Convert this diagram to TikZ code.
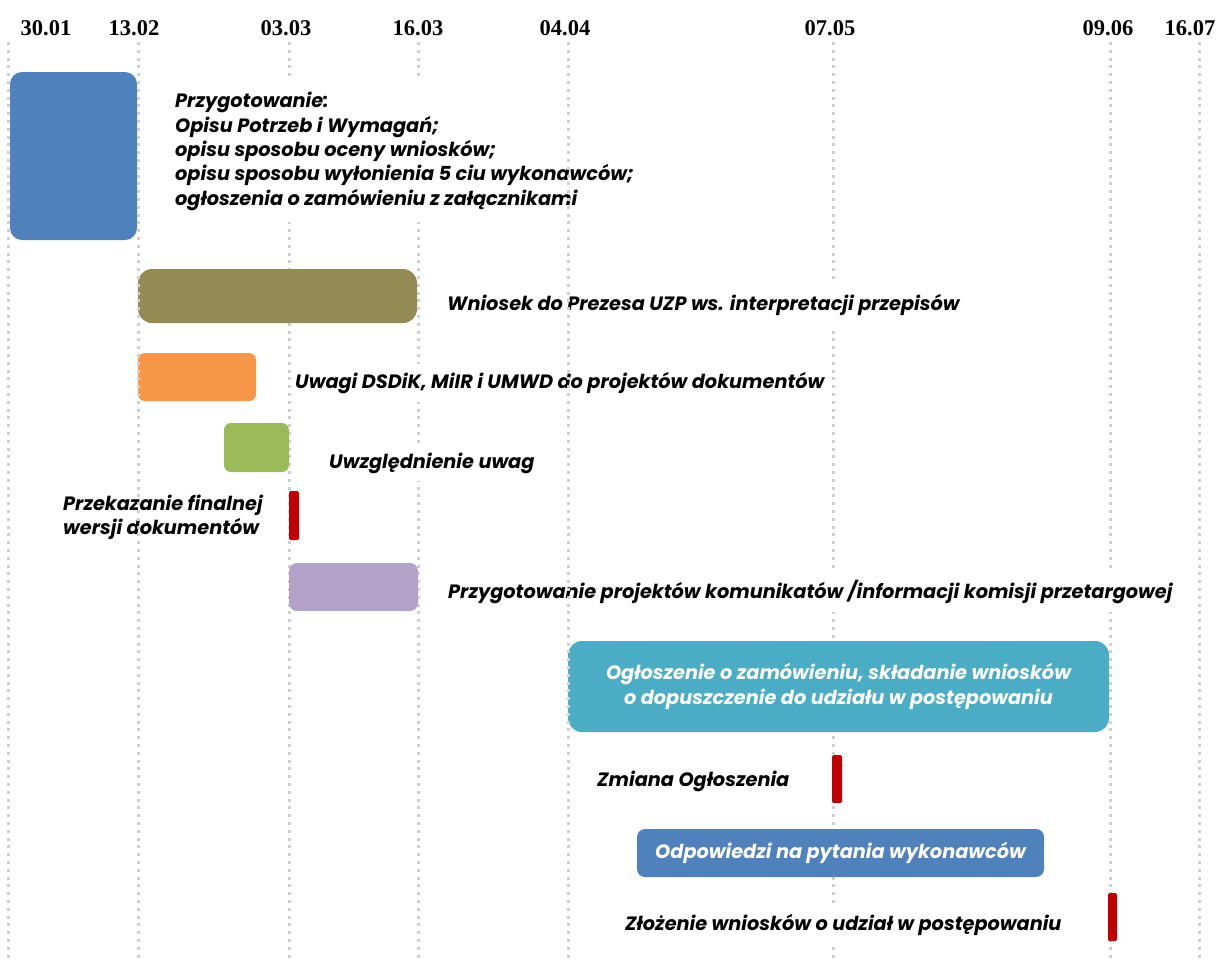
\documentclass[tikz,border=0pt]{standalone}
\usepackage{fontspec}
\setmainfont{Poppins}
\newfontfamily\headfont{Liberation Serif}
\definecolor{cBlue}{HTML}{4F81BD}
\definecolor{cOlive}{HTML}{948A54}
\definecolor{cOrange}{HTML}{F79646}
\definecolor{cGreen}{HTML}{9BBB59}
\definecolor{cRed}{HTML}{C00000}
\definecolor{cPurple}{HTML}{B2A2C7}
\definecolor{cTeal}{HTML}{4BACC6}
\definecolor{cGrid}{HTML}{D0D0D0}
\tikzset{
  gridln/.style={draw=cGrid, line width=3pt, dash pattern=on 3pt off 4.8pt},
  bar/.style={draw=none, anchor=north west, inner sep=0pt, outer sep=0pt},
  lbl/.style={font=\bfseries\itshape\fontsize{19.3}{24.3}\selectfont, fill=white, inner sep=2pt, align=left, text=black},
  inlbl/.style={font=\bfseries\itshape\fontsize{19.3}{25}\selectfont, inner sep=0pt, align=center, text=white},
  hdr/.style={font=\headfont\bfseries\fontsize{22.5}{24}\selectfont, inner sep=0pt}
}
\begin{document}
\begin{tikzpicture}[x=1pt,y=-1pt]
\useasboundingbox (0,0) rectangle (1226,962);
% header labels
\node[hdr] (h1) at (46,28) {30.01};
\node[hdr] (h2) at (134,28) {13.02};
\node[hdr] (h3) at (286,28) {03.03};
\node[hdr] (h4) at (418,28) {16.03};
\node[hdr] (h5) at (565,28) {04.04};
\node[hdr] (h6) at (830,28) {07.05};
\node[hdr] (h7) at (1108,28) {09.06};
\node[hdr] (h8) at (1190,28) {16.07};
% grid lines (behind)
\coordinate (g3t) at (289,42); \coordinate (g3b) at (289,962);
\coordinate (g4t) at (418,42); \coordinate (g4b) at (418,962);
\coordinate (g6t) at (833,42); \coordinate (g6b) at (833,962);
\coordinate (g7t) at (1110,42); \coordinate (g7b) at (1110,962);
\coordinate (g8t) at (1199,42); \coordinate (g8b) at (1199,962);
\draw[gridln] (g3t) -- (g3b);
\draw[gridln] (g4t) -- (g4b);
\draw[gridln] (g6t) -- (g6b);
\draw[gridln] (g7t) -- (g7b);
\draw[gridln] (g8t) -- (g8b);
% bars
\node[bar, fill=cBlue, rounded corners=12pt, minimum width=127pt, minimum height=168pt] (b1) at (10,72) {};
\node[bar, fill=cOlive, rounded corners=14pt, minimum width=279pt, minimum height=54pt] (b2) at (138,269) {};
\node[bar, fill=cOrange, rounded corners=7pt, minimum width=118pt, minimum height=48pt] (b3) at (138,353) {};
\node[bar, fill=cGreen, rounded corners=7pt, minimum width=65pt, minimum height=49pt] (b4) at (224,423) {};
\node[bar, fill=cRed, rounded corners=1.5pt, minimum width=10pt, minimum height=49pt] (b5) at (289,491) {};
\node[bar, fill=cPurple, rounded corners=8pt, minimum width=129pt, minimum height=48pt] (b6) at (289,563) {};
\node[bar, fill=cTeal, rounded corners=14pt, minimum width=541pt, minimum height=91pt] (b7) at (568,641) {};
\node[bar, fill=cRed, rounded corners=1.5pt, minimum width=10pt, minimum height=48pt] (b8) at (832,755) {};
\node[bar, fill=cBlue, rounded corners=8pt, minimum width=407pt, minimum height=48pt] (b9) at (637,829) {};
\node[bar, fill=cRed, rounded corners=1.5pt, minimum width=9pt, minimum height=48pt] (b10) at (1108,893) {};
% labels
\node[lbl, anchor=west, inner ysep=12pt] (t1) at (173,151.5) {Przygotowanie:\\Opisu Potrzeb i Wymagań;\\opisu sposobu oceny wniosków;\\opisu sposobu wyłonienia 5 ciu wykonawców;\\ogłoszenia o zamówieniu z załącznikami};
\node[lbl, anchor=west, inner ysep=10pt] (t2) at (445,305) {Wniosek do Prezesa UZP ws. interpretacji przepisów};
\node[lbl, anchor=west, inner ysep=8pt] (t3) at (293,383) {Uwagi DSDiK, MiIR i UMWD do projektów dokumentów};
\node[lbl, anchor=west, inner ysep=8pt] (t4) at (327,463) {Uwzględnienie uwag};
\node[lbl, anchor=west] (t5) at (61,517.5) {Przekazanie finalnej\\wersji dokumentów};
\node[lbl, anchor=west, inner ysep=8pt] (t6) at (446,592) {Przygotowanie projektów komunikatów /informacji komisji przetargowej};
\node[inlbl] (t7) at (b7.center) {Ogłoszenie o zamówieniu, składanie wniosków\\o dopuszczenie do udziału w postępowaniu};
\node[lbl, anchor=west] (t8) at (595,781) {Zmiana Ogłoszenia};
\node[inlbl] (t9) at (b9.center) {Odpowiedzi na pytania wykonawców};
\node[lbl, anchor=west, inner ysep=10pt] (t10) at (623,925) {Złożenie wniosków o udział w postępowaniu};
% grid lines (front)
\coordinate (g1t) at (8,42); \coordinate (g1b) at (8,962);
\coordinate (g2t) at (138,42); \coordinate (g2b) at (138,962);
\coordinate (g5t) at (568,42); \coordinate (g5b) at (568,962);
\draw[gridln] (g1t) -- (g1b);
\draw[gridln] (g2t) -- (g2b);
\draw[gridln] (g5t) -- (g5b);
\end{tikzpicture}
\end{document}
